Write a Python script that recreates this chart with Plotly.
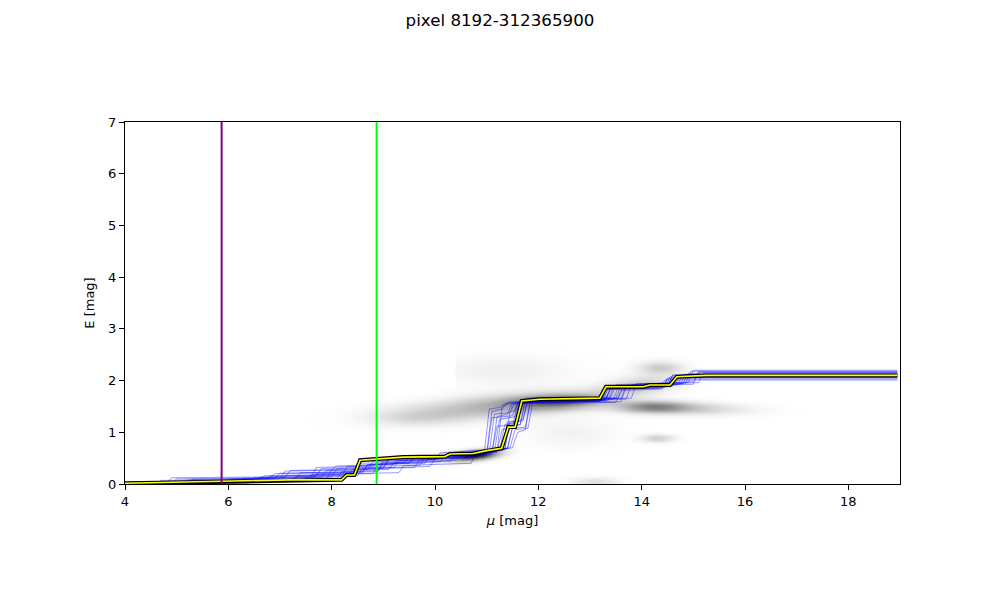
import numpy as np
import plotly.graph_objects as go

# ---------------- data ----------------
title_text = "pixel 8192-312365900"
x_ticks = [4, 6, 8, 10, 12, 14, 16, 18]
y_ticks = [0, 1, 2, 3, 4, 5, 6, 7]

# best-fit reddening profile
mu_best = [4.0, 5.84, 7.19, 8.19, 8.29, 8.44, 8.55, 9.39, 10.19, 10.29, 10.74, 11.0, 11.29,
           11.42, 11.55, 11.68, 12.03, 13.19, 13.31, 14.03, 14.16, 14.55, 14.68, 15.26, 18.95]
E_best = [0.015, 0.045, 0.08, 0.08, 0.175, 0.175, 0.46, 0.52, 0.53, 0.58, 0.59, 0.645, 0.69,
          1.10, 1.10, 1.605, 1.64, 1.66, 1.88, 1.88, 1.915, 1.915, 2.075, 2.10, 2.10]

# sample profiles (blue)
samples_mu = [
    [4, 5.1, 5.2, 7.3, 7.4, 8.9, 9.0, 10.4, 10.5, 11.2, 11.3, 11.5, 11.6, 13.3, 13.4, 14.6, 14.7, 18.95],
    [4, 6.4, 6.5, 8.0, 8.1, 9.2, 9.3, 10.6, 10.7, 11.35, 11.45, 11.7, 11.8, 13.5, 13.6, 14.8, 14.9, 18.95],
    [4, 4.9, 5.0, 6.8, 6.9, 8.6, 8.7, 9.8, 9.9, 11.1, 11.2, 11.4, 11.5, 13.2, 13.3, 14.4, 14.5, 18.95],
    [4, 7.6, 7.7, 8.4, 8.5, 9.5, 9.6, 10.9, 11.0, 11.5, 11.6, 11.75, 11.85, 13.7, 13.8, 15.0, 15.1, 18.95],
    [4, 5.5, 5.6, 7.9, 8.0, 9.0, 9.1, 10.2, 10.3, 11.25, 11.35, 11.6, 11.7, 13.25, 13.35, 14.5, 14.6, 18.95],
    [4, 6.0, 6.1, 7.0, 7.1, 8.7, 8.8, 10.0, 10.1, 11.0, 11.1, 11.3, 11.4, 13.6, 13.7, 14.7, 14.8, 18.95],
    [4, 4.7, 4.8, 7.5, 7.6, 9.3, 9.4, 10.7, 10.8, 11.4, 11.5, 11.65, 11.75, 13.4, 13.5, 14.9, 15.0, 18.95],
    [4, 6.7, 6.8, 8.2, 8.3, 9.7, 9.8, 10.5, 10.6, 11.15, 11.25, 11.55, 11.65, 13.3, 13.4, 14.55, 14.65, 18.95],
    [4, 5.3, 5.4, 7.2, 7.3, 8.5, 8.6, 9.9, 10.0, 11.3, 11.4, 11.7, 11.8, 13.55, 13.65, 14.75, 14.85, 18.95],
    [4, 6.2, 6.3, 7.8, 7.9, 9.1, 9.2, 10.3, 10.4, 11.05, 11.15, 11.45, 11.55, 13.15, 13.25, 14.45, 14.55, 18.95],
    [4, 5.8, 5.9, 8.1, 8.2, 8.9, 9.0, 10.8, 10.9, 11.45, 11.55, 11.8, 11.9, 13.8, 13.9, 15.1, 15.2, 18.95],
    [4, 4.6, 4.7, 6.6, 6.7, 8.8, 8.9, 10.1, 10.2, 11.2, 11.3, 11.35, 11.45, 13.35, 13.45, 14.6, 14.7, 18.95],
    [4, 7.0, 7.1, 8.45, 8.55, 9.4, 9.5, 10.6, 10.7, 11.3, 11.4, 11.6, 11.7, 13.45, 13.55, 14.65, 14.75, 18.95],
    [4, 5.6, 5.7, 7.4, 7.5, 8.3, 8.4, 9.6, 9.7, 11.0, 11.1, 11.5, 11.6, 13.2, 13.3, 14.35, 14.45, 18.95],
    [4, 6.5, 6.6, 7.7, 7.8, 9.0, 9.1, 10.4, 10.5, 11.35, 11.45, 11.55, 11.65, 13.6, 13.7, 14.85, 14.95, 18.95],
    [4, 5.2, 5.3, 6.9, 7.0, 8.6, 8.7, 9.5, 9.6, 11.1, 11.2, 11.65, 11.75, 13.3, 13.4, 14.5, 14.6, 18.95],
    [4, 4.8, 4.9, 7.1, 7.2, 8.0, 8.1, 9.2, 9.3, 10.95, 11.05, 11.25, 11.35, 13.5, 13.6, 14.4, 14.5, 18.95],
    [4, 5.9, 6.0, 7.6, 7.7, 8.8, 8.9, 10.0, 10.1, 11.4, 11.5, 11.75, 11.85, 13.25, 13.35, 15.0, 15.1, 18.95],
]
samples_E = [
    [0.01, 0.01, 0.08, 0.1, 0.22, 0.24, 0.42, 0.46, 0.56, 0.62, 1.05, 1.1, 1.58, 1.62, 1.86, 1.9, 2.08, 2.08],
    [0.0, 0.02, 0.12, 0.14, 0.3, 0.32, 0.45, 0.5, 0.6, 0.66, 1.2, 1.25, 1.64, 1.66, 1.9, 1.94, 2.14, 2.14],
    [0.0, 0.0, 0.1, 0.12, 0.2, 0.22, 0.38, 0.4, 0.52, 0.58, 1.3, 1.35, 1.56, 1.6, 1.82, 1.86, 2.03, 2.03],
    [0.01, 0.06, 0.2, 0.22, 0.36, 0.4, 0.5, 0.6, 0.64, 0.7, 1.0, 1.05, 1.62, 1.64, 1.92, 1.98, 2.17, 2.17],
    [0.0, 0.01, 0.06, 0.08, 0.28, 0.3, 0.48, 0.5, 0.57, 0.64, 1.15, 1.2, 1.6, 1.62, 1.84, 1.9, 2.1, 2.1],
    [0.0, 0.03, 0.09, 0.11, 0.25, 0.28, 0.44, 0.47, 0.55, 0.6, 1.4, 1.45, 1.57, 1.59, 1.88, 1.92, 2.12, 2.12],
    [0.0, 0.0, 0.05, 0.08, 0.18, 0.22, 0.36, 0.4, 0.62, 0.68, 1.1, 1.15, 1.66, 1.68, 1.92, 1.96, 2.2, 2.2],
    [0.01, 0.04, 0.15, 0.17, 0.34, 0.36, 0.5, 0.52, 0.6, 0.63, 1.25, 1.3, 1.6, 1.63, 1.86, 1.88, 2.06, 2.06],
    [0.0, 0.0, 0.04, 0.06, 0.14, 0.16, 0.3, 0.34, 0.48, 0.66, 1.2, 1.22, 1.62, 1.66, 1.9, 1.93, 2.12, 2.12],
    [0.0, 0.02, 0.11, 0.13, 0.26, 0.28, 0.41, 0.44, 0.56, 0.6, 1.35, 1.38, 1.58, 1.6, 1.84, 1.87, 2.07, 2.07],
    [0.01, 0.03, 0.07, 0.1, 0.24, 0.26, 0.46, 0.54, 0.64, 0.7, 1.05, 1.08, 1.64, 1.66, 1.94, 1.96, 2.15, 2.15],
    [0.0, 0.0, 0.07, 0.09, 0.16, 0.2, 0.39, 0.43, 0.54, 0.62, 1.5, 1.52, 1.59, 1.61, 1.87, 1.9, 2.09, 2.09],
    [0.0, 0.05, 0.16, 0.18, 0.4, 0.42, 0.5, 0.53, 0.6, 0.65, 1.15, 1.18, 1.61, 1.64, 1.88, 1.92, 2.1, 2.1],
    [0.0, 0.02, 0.05, 0.07, 0.12, 0.14, 0.28, 0.32, 0.46, 0.56, 1.28, 1.32, 1.57, 1.6, 1.83, 1.85, 2.01, 2.01],
    [0.01, 0.03, 0.13, 0.15, 0.3, 0.33, 0.47, 0.5, 0.58, 0.67, 1.4, 1.42, 1.63, 1.65, 1.91, 1.95, 2.18, 2.18],
    [0.0, 0.01, 0.09, 0.11, 0.21, 0.24, 0.37, 0.41, 0.52, 0.6, 1.12, 1.15, 1.59, 1.62, 1.85, 1.89, 2.11, 2.11],
    [0.0, 0.0, 0.12, 0.14, 0.26, 0.28, 0.35, 0.38, 0.5, 0.57, 1.45, 1.48, 1.55, 1.58, 1.81, 1.84, 2.05, 2.05],
    [0.01, 0.02, 0.1, 0.12, 0.32, 0.35, 0.44, 0.47, 0.6, 0.69, 1.08, 1.1, 1.65, 1.67, 1.89, 1.93, 2.16, 2.16],
]

# vertical markers
mu_purple = 5.87
mu_green = 8.87

# stellar density background: blob components
blob_mu =     [10.75, 11.3, 12.4, 9.6, 14.2, 14.8, 13.9, 11.3, 14.35, 14.3, 13.1, 12.6, 9.9]
blob_E =      [0.56, 1.52, 1.6, 1.3, 1.5, 1.47, 1.9, 2.2, 2.25, 0.89, 0.05, 1.0, 0.5]
blob_smu =    [0.3, 1.2, 0.6, 0.6, 0.45, 0.8, 0.5, 0.9, 0.3, 0.22, 0.3, 0.6, 0.4]
blob_sE =     [0.065, 0.15, 0.09, 0.12, 0.075, 0.08, 0.12, 0.2, 0.09, 0.05, 0.06, 0.2, 0.06]
blob_amp =    [1.0, 0.3, 0.5, 0.1, 0.36, 0.2, 0.22, 0.06, 0.2, 0.18, 0.13, 0.05, 0.12]
blob_slope =  [0.1, 0.08, 0.03, 0.0, 0.0, -0.02, 0.1, 0.0, 0.0, 0.0, 0.0, 0.0, 0.1]
blob_mu_min = [4, 4, 4, 4, 4, 4, 4, 10.37, 4, 4, 4, 4, 4]

# ---------------- build figure ----------------
grid_mu = np.arange(4.0, 19.0001, 0.04)
grid_E = np.arange(0.0, 7.0001, 0.02)
MM, EE = np.meshgrid(grid_mu, grid_E)
dens = np.zeros_like(MM)
for m, e, sm, se, a, s, mmin in zip(blob_mu, blob_E, blob_smu, blob_sE, blob_amp, blob_slope, blob_mu_min):
    de = EE - (e + s * (MM - m))
    comp = a * np.exp(-0.5 * ((MM - m) / sm) ** 2 - 0.5 * (de / se) ** 2)
    comp[MM < mmin] = 0
    dens += comp

fig = go.Figure()
fig.add_trace(go.Heatmap(
    x=grid_mu, y=grid_E, z=dens, zmin=0, zmax=1,
    colorscale=[[0, "white"], [1, "black"]], showscale=False, zsmooth="best",
    hoverinfo="skip"))

for smu, sE in zip(samples_mu, samples_E):
    fig.add_trace(go.Scatter(x=smu, y=sE, mode="lines",
                             line=dict(color="rgba(0,0,255,0.4)", width=1),
                             showlegend=False, hoverinfo="skip"))

fig.add_trace(go.Scatter(x=mu_best, y=E_best, mode="lines",
                         line=dict(color="black", width=4), showlegend=False))
fig.add_trace(go.Scatter(x=mu_best, y=E_best, mode="lines",
                         line=dict(color="yellow", width=1.6), showlegend=False))

fig.add_trace(go.Scatter(x=[mu_purple, mu_purple], y=[y_ticks[0], y_ticks[-1]], mode="lines",
                         line=dict(color="purple", width=2), showlegend=False))
fig.add_trace(go.Scatter(x=[mu_green, mu_green], y=[y_ticks[0], y_ticks[-1]], mode="lines",
                         line=dict(color="#00ff00", width=2), showlegend=False))

axis_common = dict(showgrid=False, zeroline=False, showline=True, linecolor="black",
                   linewidth=1, mirror=True, ticks="outside", ticklen=5, tickwidth=1,
                   tickcolor="black", tickfont=dict(size=13, color="black"))
fig.update_xaxes(range=[4, 19], tickvals=x_ticks, title=dict(text="<i>μ</i> [mag]", standoff=8,
                 font=dict(size=13, color="black")), **axis_common)
fig.update_yaxes(range=[0, 7], tickvals=y_ticks, title=dict(text="E [mag]", standoff=10,
                 font=dict(size=13, color="black")), **axis_common)

# page body adds an 8px offset; margins compensate so the plot box lands at 125..900 x 122..484
fig.update_layout(
    width=1000, height=600,
    margin=dict(l=117, r=108, t=114, b=124),
    plot_bgcolor="white", paper_bgcolor="white",
    font=dict(family="DejaVu Sans", color="black"),
    title=dict(text=title_text, x=(500 - 8) / 1000, xanchor="center", y=1 - 12 / 600,
               yanchor="middle", yref="container", font=dict(size=16.7, color="black")),
    showlegend=False,
)

fig.write_html("out.html")
